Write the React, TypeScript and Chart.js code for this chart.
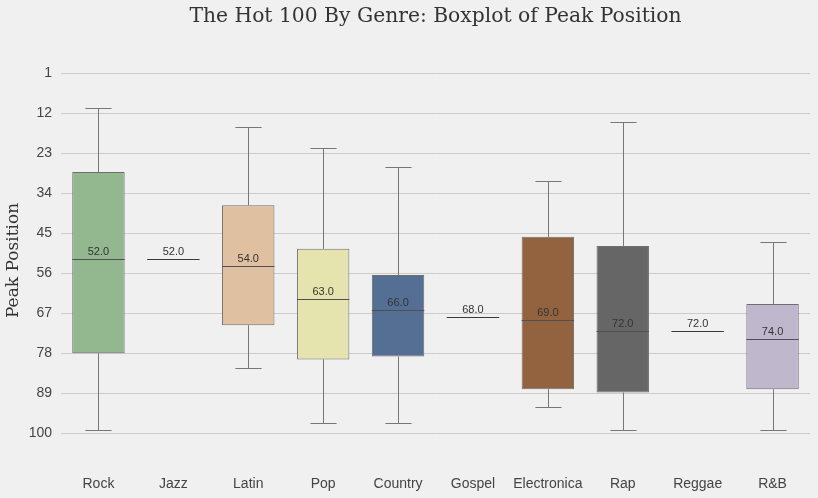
import React, { useEffect, useRef } from 'react';
import { Chart, registerables } from 'chart.js';

Chart.register(...registerables);

const genres = ['Rock', 'Jazz', 'Latin', 'Pop', 'Country', 'Gospel', 'Electronica', 'Rap', 'Reggae', 'R&B'];
// Peak position: lower number = better. "whiskerTop" is the smallest value drawn at the top.
const whiskerTop = [10.7, 52, 15.8, 21.6, 26.8, 68, 30.7, 14.5, 72, 47.5];
const q1 = [28.2, 52, 37.3, 49.3, 56.5, 68, 46, 48.5, 72, 64.5];
const medians = [52, 52, 54, 63, 66, 68, 69, 72, 72, 74];
const q3 = [78, 52, 70.3, 79.7, 78.9, 68, 87.9, 88.8, 72, 87.9];
const whiskerBottom = [99.2, 52, 82.1, 97.2, 97.2, 68, 92.8, 99.2, 72, 99.2];
const boxColors = ['#93b890', '#f0f0f0', '#dfc0a0', '#e6e4ae', '#546f93', '#f0f0f0', '#936340', '#666666', '#f0f0f0', '#bfb7cb'];
const yTicks = [1, 12, 23, 34, 45, 56, 67, 78, 89, 100];

const TITLE = 'The Hot 100 By Genre: Boxplot of Peak Position';
const Y_TITLE = 'Peak Position';

const BOX_FRACTION = 0.7;
const CAP_FRACTION = 0.35;

const boxPlugin = {
  id: 'boxExtras',
  beforeDatasetsDraw(chart: any) {
    const { ctx, scales } = chart;
    const x = scales.x;
    const y = scales.y;
    const cat = x.getPixelForValue(1) - x.getPixelForValue(0);
    ctx.save();
    ctx.strokeStyle = '#777777';
    ctx.lineWidth = 1;
    genres.forEach((_, i) => {
      if (q1[i] === q3[i]) return;
      const cx = Math.round(x.getPixelForValue(i)) + 0.5;
      const half = (cat * CAP_FRACTION) / 2;
      const yT = Math.round(y.getPixelForValue(whiskerTop[i])) + 0.5;
      const yQ1 = y.getPixelForValue(q1[i]);
      const yQ3 = y.getPixelForValue(q3[i]);
      const yB = Math.round(y.getPixelForValue(whiskerBottom[i])) + 0.5;
      ctx.beginPath();
      ctx.moveTo(cx, yT);
      ctx.lineTo(cx, yQ1);
      ctx.moveTo(cx, yQ3);
      ctx.lineTo(cx, yB);
      ctx.moveTo(cx - half, yT);
      ctx.lineTo(cx + half, yT);
      ctx.moveTo(cx - half, yB);
      ctx.lineTo(cx + half, yB);
      ctx.stroke();
    });
    ctx.restore();
  },
  afterDatasetsDraw(chart: any) {
    const { ctx, scales } = chart;
    const x = scales.x;
    const y = scales.y;
    const cat = x.getPixelForValue(1) - x.getPixelForValue(0);
    ctx.save();
    genres.forEach((_, i) => {
      const cx = x.getPixelForValue(i);
      const half = (cat * BOX_FRACTION) / 2;
      const ym = Math.round(y.getPixelForValue(medians[i])) + 0.5;
      ctx.strokeStyle = q1[i] === q3[i] ? '#3a3a3a' : '#505050';
      ctx.lineWidth = 1;
      ctx.beginPath();
      ctx.moveTo(cx - half, ym);
      ctx.lineTo(cx + half, ym);
      ctx.stroke();
      ctx.fillStyle = '#333333';
      ctx.font = '11px "Liberation Sans", Arial, sans-serif';
      ctx.textAlign = 'center';
      ctx.textBaseline = 'alphabetic';
      ctx.fillText(medians[i].toFixed(1), cx, ym - 4.5);
    });
    // y-axis title
    ctx.fillStyle = '#333333';
    ctx.font = '17px "DejaVu Serif", serif';
    ctx.textAlign = 'center';
    ctx.textBaseline = 'middle';
    ctx.translate(14, 260.5);
    ctx.rotate(-Math.PI / 2);
    ctx.fillText(Y_TITLE, 0, 0);
    ctx.restore();
  },
};

export default function App() {
  const canvasRef = useRef<HTMLCanvasElement | null>(null);

  useEffect(() => {
    document.body.style.background = '#f0f0f0';
    const canvas = canvasRef.current;
    if (!canvas) return;
    const chart = new Chart(canvas, {
      type: 'bar',
      data: {
        labels: genres,
        datasets: [
          {
            label: 'IQR',
            data: genres.map((_, i) => [q1[i], q3[i]]) as any,
            backgroundColor: boxColors,
            borderColor: '#6e6e6e',
            borderWidth: (c: any) => (q1[c.dataIndex] === q3[c.dataIndex] ? 0 : 1),
            borderSkipped: false,
            categoryPercentage: 1,
            barPercentage: BOX_FRACTION,
          },
        ],
      },
      options: {
        animation: false,
        responsive: true,
        maintainAspectRatio: false,
        layout: { padding: { left: 0, right: 8, top: 0, bottom: 0 } },
        plugins: {
          legend: { display: false },
          tooltip: { enabled: false },
          title: {
            display: true,
            text: TITLE,
            fullSize: false,
            color: '#333333',
            font: { family: '"DejaVu Serif", serif', size: 20.3, weight: 'normal', lineHeight: 1.2 },
            padding: { top: 4.8, bottom: 4 },
          },
        },
        scales: {
          x: {
            type: 'category',
            offset: true,
            grid: { display: false, drawTicks: false },
            border: { display: false },
            ticks: {
              color: '#444444',
              padding: 6,
              autoSkip: false,
              maxRotation: 0,
              minRotation: 0,
              font: { family: '"Liberation Sans", Arial, sans-serif', size: 14 },
            },
            afterFit: (scale: any) => {
              scale.height = 28.4;
            },
          },
          y: {
            type: 'linear',
            reverse: true,
            min: -10,
            max: 110,
            grid: { color: '#cbcbcb', lineWidth: 1, drawTicks: false },
            border: { display: false },
            ticks: {
              color: '#444444',
              padding: 9,
              font: { family: '"Liberation Sans", Arial, sans-serif', size: 14 },
            },
            afterBuildTicks: (scale: any) => {
              scale.ticks = yTicks.map((v) => ({ value: v }));
            },
            afterFit: (scale: any) => {
              scale.width = 61;
            },
          },
        },
      },
      plugins: [boxPlugin],
    });
    return () => chart.destroy();
  }, []);

  return (
    <div style={{ position: 'absolute', left: 0, top: 0, width: 818, height: 498, background: '#f0f0f0' }}>
      <canvas ref={canvasRef} />
    </div>
  );
}
